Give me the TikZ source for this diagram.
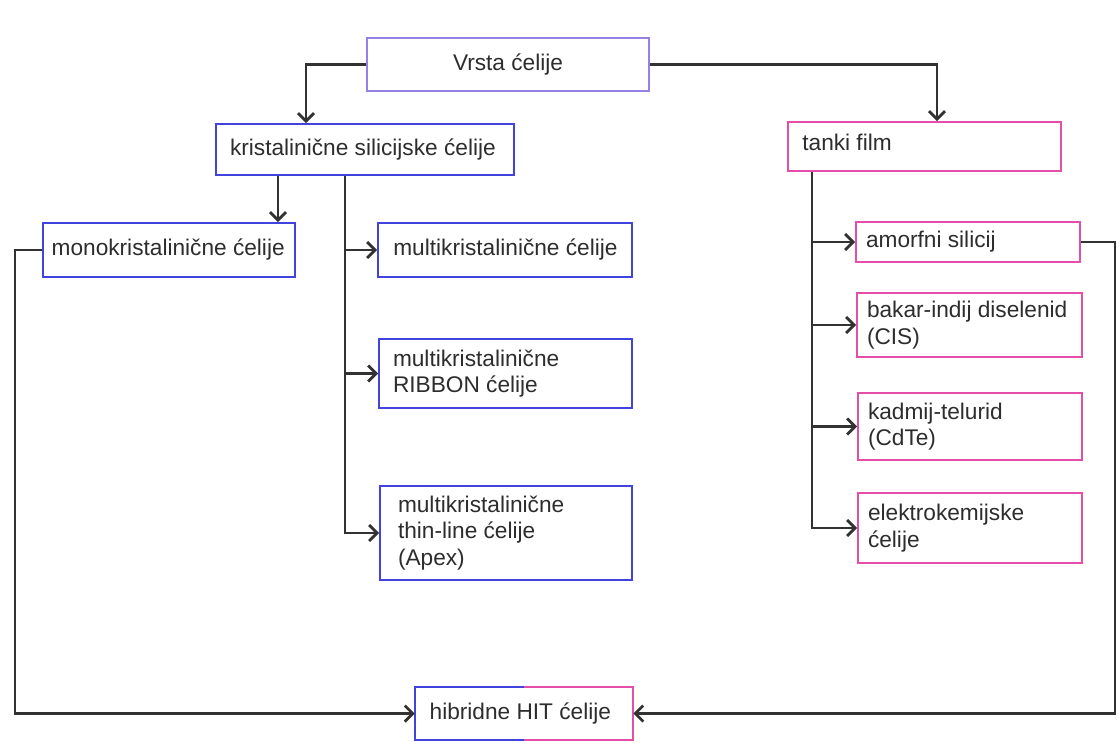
\documentclass[tikz,border=0pt]{standalone}
\usepackage{fontspec}
\setmainfont{Liberation Sans}
\usetikzlibrary{arrows.meta,calc}
\definecolor{bluebox}{RGB}{66,66,222}
\definecolor{pinkbox}{RGB}{228,78,168}
\definecolor{lavbox}{RGB}{150,128,228}
\definecolor{linec}{RGB}{50,50,50}
\definecolor{txtc}{RGB}{45,45,45}
\tikzset{
  bx/.style={draw, line width=1.4pt, fill=white, inner sep=0pt},
  bbx/.style={bx, draw=bluebox},
  pbx/.style={bx, draw=pinkbox},
  txt/.style={anchor=west, align=left, inner sep=0pt, text=txtc,
    font=\fontsize{17}{20}\selectfont},
  arr/.style={draw=linec, line width=2.1pt,
    -{Straight Barb[length=6pt,width=12pt]}}
}
\begin{document}
\begin{tikzpicture}[x=0.75pt,y=-0.75pt]
\fill[white] (0,0) rectangle (1119,742);
\useasboundingbox (0,0) rectangle (1119,742);
% helper x positions
\coordinate (tl) at (345,0);
\coordinate (tr) at (812,0);
\coordinate (ll) at (15,0);
\coordinate (rr) at (1115,0);
\coordinate (mx) at (278,0);
\coordinate (kx) at (306,0);
\coordinate (fx) at (937,0);

% boxes
\node[bx, draw=lavbox, minimum width=211.5pt, minimum height=39.75pt] (vrsta) at (508,64.5) {};
\node[txt, anchor=center] (vrsta-t) at (vrsta.center) {Vrsta ćelije};

\node[bbx, minimum width=223.5pt, minimum height=38.25pt] (kris) at (365,149.5) {};
\node[txt] (kris-t) at ([xshift=11pt]kris.west) {kristalinične silicijske ćelije};

\node[pbx, minimum width=204.75pt, minimum height=36.75pt] (tanki) at (924.5,146.5) {};
\node[txt] (tanki-t) at ($(tanki.west)+(15,-4)$) {tanki film};

\node[bbx, minimum width=189pt, minimum height=40.5pt] (mono) at (169,250) {};
\node[txt] (mono-t) at ([xshift=7pt]mono.west) {monokristalinične ćelije};

\node[bbx, minimum width=190.5pt, minimum height=40.5pt] (mc1) at (505,250) {};
\node[txt] (mc1-t) at ([xshift=12pt]mc1.west) {multikristalinične ćelije};

\node[bbx, minimum width=189.75pt, minimum height=51.75pt] (mc2) at (505.5,373.5) {};
\node[txt] (mc2-t) at ([xshift=11pt]mc2.west) {multikristalinične\\RIBBON ćelije};

\node[bbx, minimum width=189pt, minimum height=70.5pt] (mc3) at (506,533) {};
\node[txt] (mc3-t) at ([xshift=14pt]mc3.west) {multikristalinične\\thin-line ćelije\\(Apex)};

\node[pbx, minimum width=168pt, minimum height=30pt] (amorf) at (968,242) {};
\node[txt] (amorf-t) at ([xshift=8pt]amorf.west) {amorfni silicij};

\node[pbx, minimum width=168.75pt, minimum height=48pt] (bakar) at (969.5,325) {};
\node[txt] (bakar-t) at ([xshift=8pt]bakar.west) {bakar-indij diselenid\\(CIS)};

\node[pbx, minimum width=168pt, minimum height=50.25pt] (kadmij) at (970,426.5) {};
\node[txt] (kadmij-t) at ([xshift=8pt]kadmij.west) {kadmij-telurid\\(CdTe)};

\node[pbx, minimum width=168pt, minimum height=52.5pt] (elektro) at (970,528) {};
\node[txt] (elektro-t) at ([xshift=8pt]elektro.west) {elektrokemijske\\ćelije};

\node[inner sep=0pt, minimum width=163.5pt, minimum height=39.75pt] (hit) at (524,713.5) {};
\draw[draw=bluebox, line width=1.4pt] (hit.north) -- (hit.north west) -- (hit.south west) -- (hit.south);
\draw[draw=pinkbox, line width=1.4pt] (hit.north) -- (hit.north east) -- (hit.south east) -- (hit.south);
\node[txt] (hit-t) at ([xshift=11pt]hit.west) {hibridne HIT ćelije};

% connectors
\draw[arr] (vrsta.west) -| (kris.north -| kx);
\draw[arr] (vrsta.east) -| (tanki.north -| fx);
\draw[arr] (kris.south -| mx) -- (mono.north -| mx);
\draw[arr] (kris.south -| tl) |- (mc3.west);
\draw[arr] (mc1.west -| tl) -- (mc1.west);
\draw[arr] (mc2.west -| tl) -- (mc2.west);
\draw[arr] (tanki.south -| tr) |- (elektro.west);
\draw[arr] (amorf.west -| tr) -- (amorf.west);
\draw[arr] (bakar.west -| tr) -- (bakar.west);
\draw[arr] (kadmij.west -| tr) -- (kadmij.west);
\draw[arr] (mono.west) -- (mono.west -| ll) |- (hit.west);
\draw[arr] (amorf.east) -- (amorf.east -| rr) |- (hit.east);
\end{tikzpicture}
\end{document}
